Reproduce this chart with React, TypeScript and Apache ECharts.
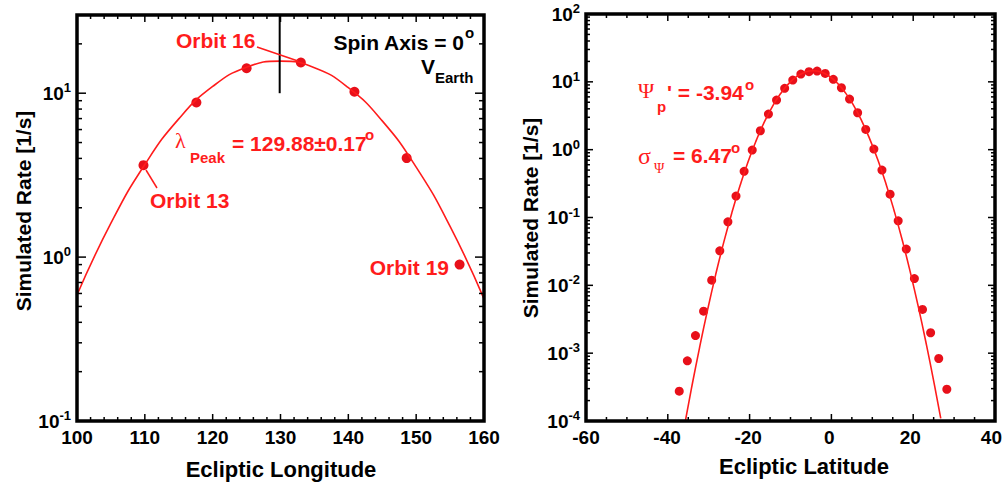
import { useEffect, useRef } from 'react';
import * as echarts from 'echarts';

// Left panel: orbit-by-orbit rate versus ecliptic longitude
const orbitLongitude = [109.8, 117.6, 125.0, 133.0, 140.9, 148.6, 156.4];
const orbitRate = [3.64, 8.77, 14.2, 15.4, 10.2, 4.02, 0.9];
const lonFitX = [100, 105, 110, 115, 120, 125, 130, 135, 140, 145, 150, 155, 160];
const lonFitRate = [0.587, 1.61, 3.67, 6.97, 10.99, 14.4, 15.7, 14.3, 10.8, 6.78, 3.54, 1.54, 0.556];
const peakLongitude = 129.88;

// Right panel: rate versus ecliptic latitude
const latBins = [
  -37, -35, -33, -31, -29, -27, -25, -23, -21, -19, -17, -15, -13, -11, -9, -7, -5,
  -3, -1, 1, 3, 5, 7, 9, 11, 13, 15, 17, 19, 21, 23, 25, 27, 29,
];
const latRate = [
  2.75e-4, 7.7e-4, 1.82e-3, 4.16e-3, 0.0119, 0.0323, 0.0865, 0.207, 0.479, 0.986, 1.9,
  3.35, 5.39, 8.02, 10.6, 13.0, 14.1, 14.4, 13.3, 10.9, 8.18, 5.57, 3.5, 1.99, 1.02, 0.5,
  0.221, 0.0893, 0.0342, 0.0126, 0.00441, 0.002, 8.35e-4, 2.94e-4,
];
const latFitX = [
  -35.5, -34, -32, -30, -28, -26, -24, -22, -20, -18, -16, -14, -12, -10, -8, -6, -4, -2,
  0, 2, 4, 6, 8, 10, 12, 14, 16, 18, 20, 22, 24, 26, 27.5,
];
const latFitRate = [
  9.95e-5, 3.0e-4, 1.2e-3, 4.38e-3, 0.0145, 0.0437, 0.119, 0.296, 0.671, 1.37, 2.57, 4.36,
  6.72, 9.42, 12.0, 13.9, 14.6, 13.96, 12.1, 9.58, 6.88, 4.49, 2.66, 1.43, 0.702, 0.313,
  0.126, 0.0465, 0.0155, 0.00472, 0.0013, 3.27e-4, 1.09e-4,
];

const SANS = "'Liberation Sans', Arial, Helvetica, sans-serif";
const SERIF = "'Liberation Serif', 'DejaVu Serif', serif";
const RED = '#ff1c1c';
const DOT = '#e8101a';

// Axis ranges and plot boxes
const leftX = { min: 100, max: 160, major: 10, minor: 2 };
const rightX = { min: -60, max: 40, major: 20, minor: 5 };
const leftY = { min: 0.1, max: 30 };
const rightY = { min: 1e-4, max: 100 };
const leftBox = { left: 77, top: 15, width: 407, height: 406 };
const rightBox = { left: 586, top: 14, width: 409, height: 407 };

function linearTicks(r: { min: number; max: number; major: number; minor: number }) {
  const major: number[] = [];
  const minor: number[] = [];
  const n = Math.round((r.max - r.min) / r.minor);
  for (let i = 1; i < n; i++) {
    const v = r.min + i * r.minor;
    const k = (v - r.min) / r.major;
    if (Math.abs(k - Math.round(k)) < 1e-9) major.push(v);
    else minor.push(v);
  }
  return { major, minor };
}

function logTicks(min: number, max: number) {
  const major: number[] = [];
  const minor: number[] = [];
  for (let e = Math.floor(Math.log10(min)); e <= Math.ceil(Math.log10(max)); e++) {
    for (let m = 1; m <= 9; m++) {
      const v = m * Math.pow(10, e);
      if (v <= min * 1.001 || v >= max * 0.999) continue;
      (m === 1 ? major : minor).push(v);
    }
  }
  return { major, minor };
}

function powerLabel(v: number) {
  const e = Math.log10(v);
  const r = Math.round(e);
  if (Math.abs(e - r) > 1e-6) return '';
  return `{b|10}{s|${r}}`;
}

function yRich(raise: number) {
  return {
    b: { fontSize: 19, fontWeight: 'bold', fontFamily: SANS, color: '#000', lineHeight: 24 },
    s: {
      fontSize: 13,
      fontWeight: 'bold',
      fontFamily: SANS,
      color: '#000',
      lineHeight: 24 - 2 * raise,
      verticalAlign: 'top',
    },
  };
}

function txt(x: number, y: number, text: string, opts: any = {}) {
  return {
    type: 'text',
    x,
    y,
    rotation: opts.rotation || 0,
    z: 100,
    style: {
      text,
      fill: opts.fill || RED,
      fontSize: opts.size || 21,
      fontWeight: opts.weight || 'bold',
      fontFamily: opts.family || SANS,
      align: opts.align || 'left',
      verticalAlign: 'middle',
    },
  };
}

function seg(x1: number, y1: number, x2: number, y2: number, stroke = RED, lineWidth = 1.5) {
  return { type: 'line', z: 100, shape: { x1, y1, x2, y2 }, style: { stroke, lineWidth } };
}

// Frame plus inward ticks on all four sides of a plot box (linear x, log y)
function frame(box: any, xr: any, yr: { min: number; max: number }, yMajor: number, yMinor: number) {
  const x0 = box.left;
  const x1 = box.left + box.width;
  const yt = box.top;
  const yb = box.top + box.height;
  const lx0 = Math.log10(yr.min);
  const lx1 = Math.log10(yr.max);
  const toX = (v: number) => x0 + ((v - xr.min) / (xr.max - xr.min)) * box.width;
  const toY = (v: number) => yb - ((Math.log10(v) - lx0) / (lx1 - lx0)) * box.height;
  const out: any[] = [];
  const xt = linearTicks(xr);
  const ytk = logTicks(yr.min, yr.max);
  const addX = (vals: number[], len: number) =>
    vals.forEach((v) => {
      const x = toX(v);
      out.push(seg(x, yb, x, yb - len, '#000'), seg(x, yt, x, yt + len, '#000'));
    });
  const addY = (vals: number[], len: number) =>
    vals.forEach((v) => {
      const y = toY(v);
      out.push(seg(x0, y, x0 + len, y, '#000'), seg(x1, y, x1 - len, y, '#000'));
    });
  addX(xt.major, 7);
  addX(xt.minor, 4);
  addY(ytk.major, yMajor);
  addY(ytk.minor, yMinor);
  out.push({
    type: 'rect',
    z: 101,
    shape: { x: x0, y: yt, width: x1 - x0, height: yb - yt },
    style: { fill: 'none', stroke: '#000', lineWidth: 3.5 },
  });
  return out;
}

export default function App() {
  const ref = useRef<HTMLDivElement>(null);

  useEffect(() => {
    if (!ref.current) return;
    const chart = echarts.init(ref.current, undefined, { renderer: 'svg' });

    const xLabel = { fontSize: 19, fontWeight: 'bold', fontFamily: SANS, color: '#000', margin: 7 };
    const hidden = { show: false, onZero: false };

    const option: any = {
      animation: false,
      backgroundColor: '#fff',
      grid: [
        { ...leftBox, show: false },
        { ...rightBox, show: false },
      ],
      xAxis: [
        {
          gridIndex: 0, type: 'value', min: leftX.min, max: leftX.max, interval: leftX.major,
          axisLine: hidden, axisTick: { show: false }, splitLine: { show: false }, axisLabel: xLabel,
        },
        {
          gridIndex: 1, type: 'value', min: rightX.min, max: rightX.max, interval: rightX.major,
          axisLine: hidden, axisTick: { show: false }, splitLine: { show: false }, axisLabel: xLabel,
        },
      ],
      yAxis: [
        {
          gridIndex: 0, type: 'log', min: leftY.min, max: leftY.max,
          axisLine: hidden, axisTick: { show: false }, splitLine: { show: false },
          axisLabel: { formatter: powerLabel, rich: yRich(4), margin: 6 },
        },
        {
          gridIndex: 1, type: 'log', min: rightY.min, max: rightY.max,
          axisLine: hidden, axisTick: { show: false }, splitLine: { show: false },
          axisLabel: { formatter: powerLabel, rich: yRich(3), margin: 6 },
        },
      ],
      series: [
        {
          type: 'line', xAxisIndex: 0, yAxisIndex: 0, showSymbol: false, smooth: true, clip: true,
          data: lonFitX.map((x, i) => [x, lonFitRate[i]]),
          lineStyle: { color: RED, width: 1.6 },
        },
        {
          type: 'line', xAxisIndex: 0, yAxisIndex: 0, showSymbol: false,
          data: [[peakLongitude, 10], [peakLongitude, leftY.max]],
          lineStyle: { color: '#000', width: 2 },
        },
        {
          type: 'scatter', xAxisIndex: 0, yAxisIndex: 0, symbolSize: 10,
          data: orbitLongitude.map((x, i) => [x, orbitRate[i]]),
          itemStyle: { color: DOT, opacity: 1 },
        },
        {
          type: 'line', xAxisIndex: 1, yAxisIndex: 1, showSymbol: false, smooth: true, clip: true,
          data: latFitX.map((x, i) => [x, latFitRate[i]]),
          lineStyle: { color: RED, width: 1.6 },
        },
        {
          type: 'scatter', xAxisIndex: 1, yAxisIndex: 1, symbolSize: 9,
          data: latBins.map((x, i) => [x, latRate[i]]),
          itemStyle: { color: DOT, opacity: 1 },
        },
      ],
      graphic: [
        ...frame(leftBox, leftX, leftY, 9, 5),
        ...frame(rightBox, rightX, rightY, 7, 4),
        // axis titles
        txt(23, 211, 'Simulated Rate [1/s]', { fill: '#000', rotation: Math.PI / 2, align: 'center' }),
        txt(281, 469, 'Ecliptic Longitude', { fill: '#000', size: 22, align: 'center' }),
        txt(530, 218, 'Simulated Rate [1/s]', { fill: '#000', rotation: Math.PI / 2, align: 'center' }),
        txt(804, 466, 'Ecliptic Latitude', { fill: '#000', size: 22, align: 'center' }),
        // left panel annotations
        txt(176, 40, 'Orbit 16'),
        seg(257, 47, 298, 61),
        txt(150, 200, 'Orbit 13'),
        seg(146, 170, 157, 188),
        txt(449, 267, 'Orbit 19', { align: 'right' }),
        txt(464, 42, 'Spin Axis = 0', { fill: '#000', align: 'right' }),
        txt(465, 32, 'o', { fill: '#000', size: 15 }),
        txt(421, 66, 'V', { fill: '#000' }),
        txt(435, 77, 'Earth', { fill: '#000', size: 15 }),
        txt(175, 140, 'λ', { family: SERIF, weight: 'normal', size: 22 }),
        txt(190, 157, 'Peak', { size: 15 }),
        txt(232, 143.5, '= 129.88±0.17'),
        txt(365, 134, 'o', { size: 15 }),
        // right panel annotations
        txt(638, 90, 'Ψ', { family: SERIF, weight: 'normal', size: 22 }),
        txt(657, 106, 'p', { size: 15 }),
        txt(667, 92, "' = -3.94"),
        txt(745, 84, 'o', { size: 15 }),
        txt(638, 156, 'σ', { family: SERIF, weight: 'normal', size: 24 }),
        txt(654, 168, 'Ψ', { family: SERIF, weight: 'normal', size: 14 }),
        txt(673, 155, '= 6.47'),
        txt(731, 147, 'o', { size: 15 }),
      ],
    };

    chart.setOption(option);
    return () => chart.dispose();
  }, []);

  return <div ref={ref} style={{ position: 'absolute', left: 0, top: 0, width: 1005, height: 483 }} />;
}
